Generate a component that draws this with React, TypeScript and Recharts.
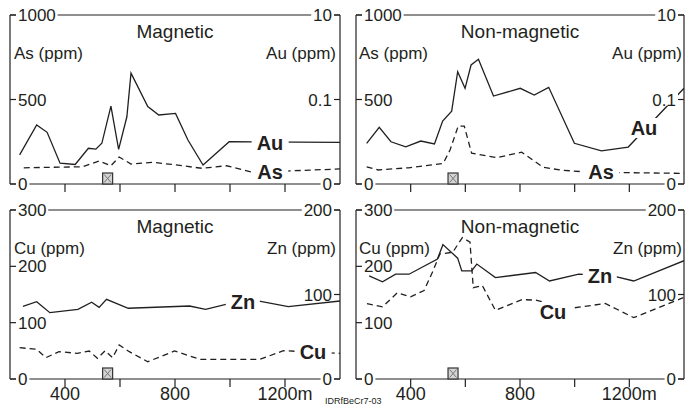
import { LineChart, Line, XAxis, YAxis, ReferenceLine, ReferenceDot } from "recharts";

const INK = "#231f20";
const FONT = '"Liberation Sans", Arial, sans-serif';

// distance along the traverse (m) and concentrations (ppm)
const magAuDist = [235, 297, 335, 382, 437, 485, 512, 534, 567, 595, 625, 640, 701, 741, 802, 847, 902, 997, 1400];
const magAuPpm = [0.0049, 0.025, 0.0167, 0.0031, 0.0029, 0.007, 0.0067, 0.0092, 0.07, 0.0066, 0.039, 0.42, 0.068, 0.043, 0.047, 0.011, 0.0028, 0.01, 0.0097];
const magAsDist = [250, 463, 524, 567, 597, 640, 719, 792, 898, 987, 1084, 1400];
const magAsPpm = [96, 102, 136, 108, 160, 118, 128, 115, 93, 108, 69, 89];

const nonAuDist = [239, 285, 328, 382, 437, 487, 517, 550, 572, 599, 621, 648, 703, 801, 852, 905, 999, 1098, 1196, 1400];
const nonAuPpm = [0.0092, 0.022, 0.01, 0.0076, 0.0104, 0.0089, 0.031, 0.053, 0.455, 0.184, 0.656, 0.893, 0.121, 0.184, 0.128, 0.194, 0.0092, 0.0061, 0.0075, 0.184];
const nonAsDist = [239, 281, 392, 519, 544, 574, 596, 623, 714, 806, 885, 946, 1050, 1400];
const nonAsPpm = [102, 83, 96, 122, 201, 343, 343, 182, 156, 188, 99, 83, 70, 63];

const magZnDist = [247, 297, 345, 447, 497, 524, 551, 630, 853, 911, 1000, 1097, 1212, 1400];
const magZnPpm = [86, 91.5, 78.5, 82.4, 90.8, 84.8, 94.3, 83.7, 86.4, 82.4, 89.6, 92.7, 85.6, 92.3];
const magCuDist = [235, 297, 330, 378, 445, 488, 518, 546, 573, 597, 634, 701, 798, 890, 1109, 1194, 1400];
const magCuPpm = [55.6, 52.7, 37.8, 48.5, 45.6, 49.7, 36.7, 50.2, 37.8, 60.4, 48.5, 30.7, 49.7, 35, 35, 50.2, 45.6];

const nonZnDist = [248, 297, 345, 394, 498, 518, 572, 587, 623, 642, 710, 857, 908, 1015, 1139, 1216, 1400];
const nonZnPpm = [122, 115, 124, 124, 142, 159, 143, 128, 128, 136, 120, 126, 116, 124, 122, 116, 140];
const nonCuDist = [240, 297, 351, 400, 449, 480, 507, 554, 589, 617, 629, 662, 710, 808, 857, 979, 1112, 1216, 1400];
const nonCuPpm = [134, 128, 153, 146, 157, 190, 222, 225, 251, 243, 162, 166, 122, 141, 140, 125, 134, 109, 145];

const distDomain: [number, number] = [200, 1400];
const distTicks = [400, 600, 800, 1000, 1200];
const asTicks = [0, 500, 1000];
const auTicks = [0.001, 0.1, 10]; // log axis, bottom shown as "0"
const cuTicks = [0, 100, 200, 300];
const znTicks = [0, 100, 200];
const sampleSite = 555;

type Pt = { x: number; v: number };
const zip = (xs: number[], vs: number[]): Pt[] => xs.map((x, i) => ({ x, v: vs[i] }));

const fmtVal = (v: number) => (v === 0.001 ? "0" : String(v));

function sideTick(side: "left" | "right") {
  return (props: any) => {
    const { x, y, payload } = props;
    const label = fmtVal(payload.value);
    const w = label.replace(".", "").length * 9.4 + (label.includes(".") ? 4.7 : 0) + 4;
    if (side === "left") {
      return (
        <g>
          <line x1={x} x2={x + 6} y1={y} y2={y} stroke={INK} strokeWidth={1.2} />
          <rect x={x + 6} y={y - 6} width={w} height={12} fill="#fff" />
          <text x={x + 8} y={y} dy="0.36em" fontSize={17} fontFamily={FONT} fill={INK}>
            {label}
          </text>
        </g>
      );
    }
    return (
      <g>
        <line x1={x - 6} x2={x} y1={y} y2={y} stroke={INK} strokeWidth={1.2} />
        <rect x={x - 6 - w} y={y - 6} width={w} height={12} fill="#fff" />
        <text x={x - 8} y={y} dy="0.36em" textAnchor="end" fontSize={17} fontFamily={FONT} fill={INK}>
          {label}
        </text>
      </g>
    );
  };
}

const SampleMark = (p: any) => {
  const { cx, cy } = p;
  return (
    <g>
      <rect x={cx - 5} y={cy - 11} width={10} height={11} fill="#d4d4d4" stroke="#333" strokeWidth={1.2} />
      <path
        d={`M${cx - 3.5} ${cy - 9.5} L${cx + 3.5} ${cy - 1.5} M${cx + 3.5} ${cy - 9.5} L${cx - 3.5} ${cy - 1.5}`}
        stroke="#777"
        strokeWidth={1}
      />
    </g>
  );
};

interface PanelProps {
  left: number;
  top: number;
  width: number;
  height: number;
  padLeft: number;
  padRight: number;
  axisHeight: number;
  dashed: Pt[];
  solid: Pt[];
  leftDomain: [number, number];
  leftTicks: number[];
  rightDomain: [number, number];
  rightTicks: number[];
  rightLog?: boolean;
  showDist: boolean;
}

function Panel(p: PanelProps) {
  return (
    <div style={{ position: "absolute", left: p.left, top: p.top }}>
      <LineChart
        width={p.width}
        height={p.height}
        margin={{ top: 15, right: p.padRight, left: p.padLeft, bottom: 0 }}
      >
        <ReferenceLine yAxisId="L" y={p.leftDomain[1]} stroke={INK} strokeWidth={1.2} />
        <Line
          yAxisId="R"
          data={p.solid}
          dataKey="v"
          stroke={INK}
          strokeWidth={1.3}
          dot={false}
          isAnimationActive={false}
        />
        <Line
          yAxisId="L"
          data={p.dashed}
          dataKey="v"
          stroke={INK}
          strokeWidth={1.3}
          strokeDasharray="6 4"
          dot={false}
          isAnimationActive={false}
        />
        <ReferenceDot yAxisId="L" x={sampleSite} y={0} shape={SampleMark} />
        <XAxis
          dataKey="x"
          type="number"
          domain={distDomain}
          ticks={distTicks}
          allowDataOverflow
          interval={0}
          height={p.axisHeight}
          tickSize={8}
          tickMargin={0}
          axisLine={{ stroke: INK, strokeWidth: 1.2 }}
          tickLine={{ stroke: INK, strokeWidth: 1.2 }}
          tick={{ fontSize: 18, fill: INK, fontFamily: FONT }}
          tickFormatter={(v: number) =>
            !p.showDist ? "" : v === 1200 ? "1200m" : v % 400 === 0 ? String(v) : ""
          }
        />
        <YAxis
          yAxisId="L"
          width={1}
          domain={p.leftDomain}
          ticks={p.leftTicks}
          interval={0}
          allowDataOverflow
          tickLine={false}
          tickSize={0}
          tickMargin={0}
          axisLine={{ stroke: INK, strokeWidth: 1.2 }}
          tick={sideTick("left")}
        />
        <YAxis
          yAxisId="R"
          orientation="right"
          width={1}
          scale={p.rightLog ? "log" : "auto"}
          domain={p.rightDomain}
          ticks={p.rightTicks}
          interval={0}
          allowDataOverflow
          tickLine={false}
          tickSize={0}
          tickMargin={0}
          axisLine={{ stroke: INK, strokeWidth: 1.2 }}
          tick={sideTick("right")}
        />
      </LineChart>
    </div>
  );
}

function Note(props: {
  x: number;
  y: number;
  text: string;
  anchor?: "start" | "middle" | "end";
  size?: number;
  bold?: boolean;
  bg?: boolean;
}) {
  const { x, y, text, anchor = "middle", size = 17, bold = false, bg = false } = props;
  const tx = anchor === "middle" ? "-50%" : anchor === "end" ? "-100%" : "0";
  return (
    <div
      style={{
        position: "absolute",
        left: x,
        top: y,
        transform: `translate(${tx}, -50%)`,
        fontSize: size,
        fontWeight: bold ? 700 : 400,
        lineHeight: 1,
        background: bg ? "#fff" : "transparent",
        padding: bg ? "0 5px" : 0,
        whiteSpace: "nowrap",
        color: INK,
      }}
    >
      {text}
    </div>
  );
}

export default function App() {
  return (
    <div
      style={{
        position: "absolute",
        left: 0,
        top: 0,
        width: 687,
        height: 408,
        background: "#fff",
        fontFamily: FONT,
        overflow: "hidden",
      }}
    >
      <Panel
        left={0} top={0} width={345} height={200} padLeft={9} padRight={4} axisHeight={16}
        solid={zip(magAuDist, magAuPpm)} dashed={zip(magAsDist, magAsPpm)}
        leftDomain={[0, 1000]} leftTicks={asTicks}
        rightDomain={[0.001, 10]} rightTicks={auTicks} rightLog showDist={false}
      />
      <Panel
        left={346} top={0} width={341} height={200} padLeft={9} padRight={2} axisHeight={16}
        solid={zip(nonAuDist, nonAuPpm)} dashed={zip(nonAsDist, nonAsPpm)}
        leftDomain={[0, 1000]} leftTicks={asTicks}
        rightDomain={[0.001, 10]} rightTicks={auTicks} rightLog showDist={false}
      />
      <Panel
        left={0} top={195} width={345} height={213} padLeft={9} padRight={4} axisHeight={29}
        solid={zip(magZnDist, magZnPpm)} dashed={zip(magCuDist, magCuPpm)}
        leftDomain={[0, 300]} leftTicks={cuTicks}
        rightDomain={[0, 200]} rightTicks={znTicks} showDist
      />
      <Panel
        left={346} top={195} width={341} height={213} padLeft={9} padRight={2} axisHeight={29}
        solid={zip(nonZnDist, nonZnPpm)} dashed={zip(nonCuDist, nonCuPpm)}
        leftDomain={[0, 300]} leftTicks={cuTicks}
        rightDomain={[0, 200]} rightTicks={znTicks} showDist
      />

      <Note x={175} y={31} text="Magnetic" size={19} />
      <Note x={520} y={31} text="Non-magnetic" size={19} />
      <Note x={175} y={226} text="Magnetic" size={19} />
      <Note x={520} y={226} text="Non-magnetic" size={19} />

      <Note x={14} y={53} text="As (ppm)" anchor="start" />
      <Note x={336} y={53} text="Au (ppm)" anchor="end" />
      <Note x={359} y={53} text="As (ppm)" anchor="start" />
      <Note x={682} y={53} text="Au (ppm)" anchor="end" />
      <Note x={14} y={248} text="Cu (ppm)" anchor="start" />
      <Note x={336} y={248} text="Zn (ppm)" anchor="end" />
      <Note x={359} y={248} text="Cu (ppm)" anchor="start" />
      <Note x={682} y={248} text="Zn (ppm)" anchor="end" />

      <Note x={270} y={143} text="Au" size={20} bold bg />
      <Note x={270} y={172} text="As" size={20} bold bg />
      <Note x={644} y={128} text="Au" size={20} bold bg />
      <Note x={601} y={172} text="As" size={20} bold bg />
      <Note x={243} y={302} text="Zn" size={20} bold bg />
      <Note x={313} y={352} text="Cu" size={20} bold bg />
      <Note x={600} y={276} text="Zn" size={20} bold bg />
      <Note x={553} y={312} text="Cu" size={20} bold bg />

      <Note x={325} y={401} text="IDRfBeCr7-03" anchor="start" size={9} />
    </div>
  );
}
